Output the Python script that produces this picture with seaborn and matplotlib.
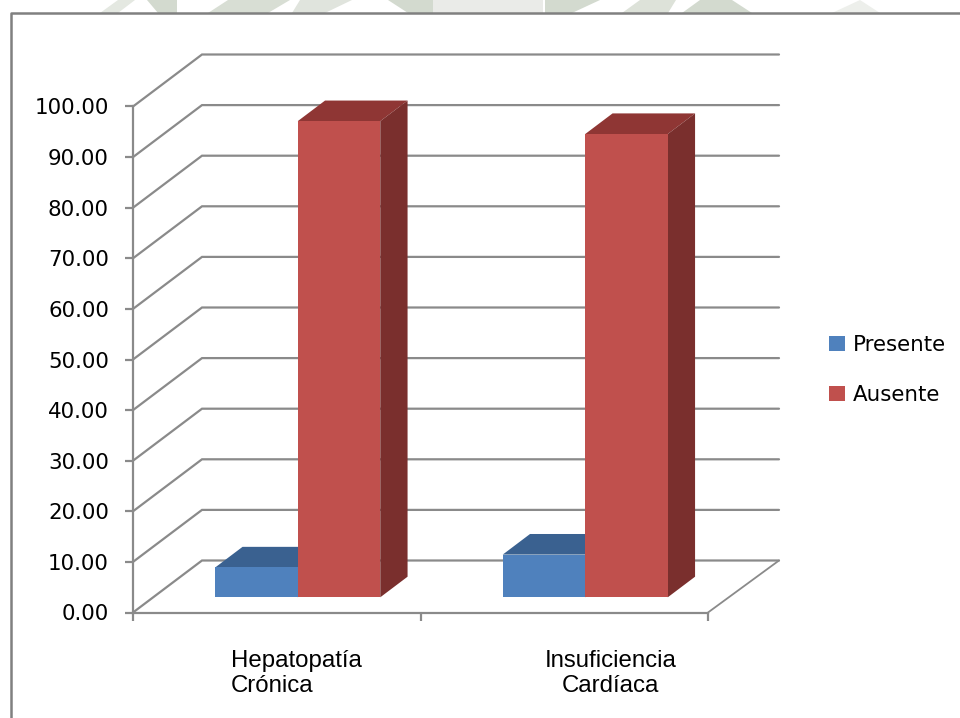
import pandas as pd
import seaborn as sns
import matplotlib.pyplot as plt
from matplotlib.lines import Line2D
from matplotlib.patches import Polygon
from matplotlib.transforms import Affine2D

# values
categories = ['Hepatopatía\nCrónica', 'Insuficiencia\nCardíaca']
presente = [5.9, 8.44]
ausente = [94.1, 91.56]
series_names = ['Presente', 'Ausente']
y_ticks = [0, 10, 20, 30, 40, 50, 60, 70, 80, 90, 100]

df = pd.DataFrame({
    'categoria': categories * 2,
    'valor': presente + ausente,
    'serie': [series_names[0]] * 2 + [series_names[1]] * 2,
})

W, H = 960, 718
GRAY = '#8A8A8A'

sns.set_style('white')
plt.rcParams['font.family'] = ['DejaVu Sans']

fig = plt.figure(figsize=(W / 100, H / 100), dpi=100, facecolor='white')
# plot box in pixels: x 133..708, y 612.5..106.5
ax = fig.add_axes([133 / W, 1 - 612.5 / H, 575 / W, 506 / H])
ax.patch.set_alpha(0)

sns.barplot(data=df, x='categoria', y='valor', hue='serie', hue_order=series_names,
            palette=['#4F81BD', '#C0504D'], width=0.574, gap=0, saturation=1,
            linewidth=0, ax=ax)
ax.set_xlim(-0.5, 1.5)
ax.set_ylim(0, 100)
ax.set_xlabel('')
ax.set_ylabel('')

# fake 3D walls: gridlines go back by a fixed depth
px_x = 287.5   # pixels per category
px_y = 5.06    # pixels per unit
wall_dx = 69 / px_x
wall_dy = 52 / px_y
right_end = (779 - 133) / px_x - 0.5
for v in y_ticks:
    ax.plot([-0.5, -0.5 + wall_dx, right_end], [v, v + wall_dy, v + wall_dy],
            color=GRAY, lw=1.6, clip_on=False, zorder=0.5, solid_joinstyle='miter')
ax.plot([1.5, right_end], [0, wall_dy], color=GRAY, lw=1.3, clip_on=False, zorder=0.5)

# bars sit a bit inside the floor
bar_shift = ax.transData + Affine2D().translate(21, 15.2)
depth_x = 27.3 / px_x
depth_y = 20.6 / px_y
top_colors = ['#3A6190', '#8F3634']
side_colors = ['#35587F', '#7A2F2D']
for i, container in enumerate(ax.containers):
    for rect in container:
        x0, w, h = rect.get_x(), rect.get_width(), rect.get_height()
        rect.set_transform(bar_shift)
        rect.set_clip_on(False)
        rect.set_zorder(3 + i)
        top = Polygon([(x0, h), (x0 + depth_x, h + depth_y), (x0 + w + depth_x, h + depth_y), (x0 + w, h)],
                      closed=True, fc=top_colors[i], lw=0, transform=bar_shift, clip_on=False, zorder=1 + i)
        side = Polygon([(x0 + w, 0), (x0 + w + depth_x, depth_y), (x0 + w + depth_x, h + depth_y), (x0 + w, h)],
                       closed=True, fc=side_colors[i], lw=0, transform=bar_shift, clip_on=False, zorder=1 + i)
        ax.add_patch(top)
        ax.add_patch(side)

# axes
sns.despine(ax=ax, top=True, right=True)
for name in ['left', 'bottom']:
    ax.spines[name].set_color(GRAY)
    ax.spines[name].set_linewidth(1.6)
ax.set_yticks(y_ticks)
ax.set_yticklabels([f'{v:.2f}' for v in y_ticks])
ax.set_xticks([-0.5, 0.5, 1.5])
ax.set_xticklabels(['', '', ''])
ax.tick_params(axis='y', left=True, length=5.8, width=1.6, color=GRAY, pad=11.5, labelsize=15.4, labelcolor='black')
ax.tick_params(axis='x', bottom=True, length=5.8, width=1.6, color=GRAY)

# category labels
label_x = [(296.5 - 133) / px_x - 0.5, (610.5 - 133) / px_x - 0.5]
label_align = ['left', 'center']
for x, lab, al in zip(label_x, categories, label_align):
    ax.text(x, -7.4, lab, ha='center', va='top', multialignment=al,
            family='Liberation Sans', fontsize=17.3, linespacing=1.2, color='black', clip_on=False)

# legend
handles, labels = ax.get_legend_handles_labels()
leg = ax.legend(handles, labels, loc='center left', bbox_to_anchor=(818 / W, 1 - 370 / H),
                bbox_transform=fig.transFigure, frameon=False, fontsize=15.4, labelspacing=1.36,
                handlelength=0.75, handleheight=0.7, handletextpad=0.36, borderpad=0)
for t in leg.get_texts():
    t.set_color('black')

# bit of the page watermark showing above the chart
wm_shapes = [
    ([(100, 13), (118, 0), (135, 0), (118, 13)], '#E4E8E1'),
    ([(147, 0), (177, 0), (177, 13), (158, 13)], '#D3DACF'),
    ([(208, 13), (228, 0), (290, 0), (268, 13)], '#D8DED4'),
    ([(300, 0), (352, 0), (325, 13), (292, 13)], '#E0E4DD'),
    ([(388, 0), (433, 0), (433, 13), (408, 13)], '#D3DACF'),
    ([(433, 0), (543, 0), (543, 13), (433, 13)], '#EAEBE8'),
    ([(545, 0), (600, 0), (572, 13), (545, 13)], '#D3DACF'),
    ([(622, 13), (640, 0), (676, 0), (668, 13)], '#DDE2D9'),
    ([(682, 13), (700, 0), (732, 0), (752, 13)], '#D3DACF'),
    ([(832, 13), (860, 0), (880, 13)], '#EDEFEB'),
]
for pts, col in wm_shapes:
    fig.add_artist(Polygon([(x / W, 1 - y / H) for x, y in pts], closed=True, fc=col, lw=0,
                           transform=fig.transFigure))

# chart frame, runs off the right and bottom of the image
fig.add_artist(Line2D([11 / W, 11 / W, 1], [0, 1 - 13 / H, 1 - 13 / H], color='#808080', lw=1.8))

fig.savefig('out.png', dpi=100)
